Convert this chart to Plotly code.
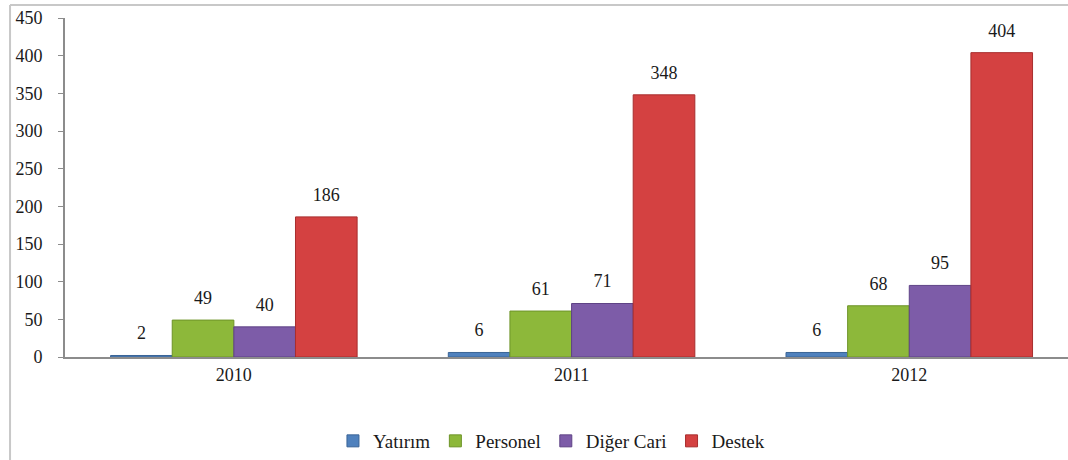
import plotly.graph_objects as go

years = ["2010", "2011", "2012"]
series_names = ["Yatırım", "Personel", "Diğer Cari", "Destek"]
yatirim = [2, 6, 6]
personel = [49, 61, 68]
diger_cari = [40, 71, 95]
destek = [186, 348, 404]
y_ticks = [0, 50, 100, 150, 200, 250, 300, 350, 400, 450]

series_values = [yatirim, personel, diger_cari, destek]
colors = ["#4F81BD", "#8DB83A", "#7D5CA8", "#D44141"]
edge_colors = ["#3A6496", "#6E9428", "#5F4386", "#A82E2E"]

serif = "Liberation Serif"

fig = go.Figure()
for i, (name, vals) in enumerate(zip(series_names, series_values)):
    fig.add_trace(go.Bar(
        x=years, y=vals, name=name,
        marker=dict(color=colors[i], line=dict(color=edge_colors[i], width=1)),
        offsetgroup=str(i), alignmentgroup="a",
        hoverinfo="skip",
    ))
for i, (name, vals) in enumerate(zip(series_names, series_values)):
    fig.add_trace(go.Scatter(
        x=years, y=vals, mode="markers+text",
        text=[str(v) for v in vals], textposition="top center",
        textfont=dict(family=serif, size=18, color="#1a1a1a"),
        marker=dict(size=17, opacity=0, color=colors[i]),
        offsetgroup=str(i), alignmentgroup="a",
        showlegend=False, hoverinfo="skip", cliponaxis=False,
    ))

# outer frame (top and left edges visible in the reference)
frame = dict(color="#C8C8C8", width=2)
fig.add_shape(type="line", xref="paper", yref="paper", x0=-0.0548, x1=1.0, y0=1.038, y1=1.038, line=frame)
fig.add_shape(type="line", xref="paper", yref="paper", x0=-0.0548, x1=-0.0548, y0=1.038, y1=-0.32, line=frame)

fig.update_layout(
    width=1068, height=460,
    margin=dict(l=65, r=0, t=18, b=102),
    paper_bgcolor="white", plot_bgcolor="white",
    barmode="group", bargap=0.27, bargroupgap=0,
    scattermode="group", scattergap=0.27,
    font=dict(family=serif, size=18, color="#1a1a1a"),
    showlegend=True,
    legend=dict(orientation="h", x=0.485, xanchor="center", y=-0.19, yanchor="top",
                font=dict(family="Times New Roman", size=19, color="#1a1a1a"),
                itemwidth=30, tracegroupgap=0),
    xaxis=dict(type="category", range=[-0.5, 2.47], showline=True, linecolor="#8C8C8C",
               linewidth=2, ticks="", showgrid=False, zeroline=False,
               tickfont=dict(family=serif, size=18, color="#1a1a1a")),
    yaxis=dict(range=[0, 450], tickvals=y_ticks, showline=True, linecolor="#8C8C8C",
               linewidth=2, ticks="outside", ticklen=5, tickcolor="#8C8C8C",
               showgrid=False, zeroline=False, ticklabelstandoff=12,
               tickfont=dict(family=serif, size=18, color="#1a1a1a")),
)

fig.write_html("out.html", config={"displayModeBar": False},
               post_script="document.body.style.margin='0';")
